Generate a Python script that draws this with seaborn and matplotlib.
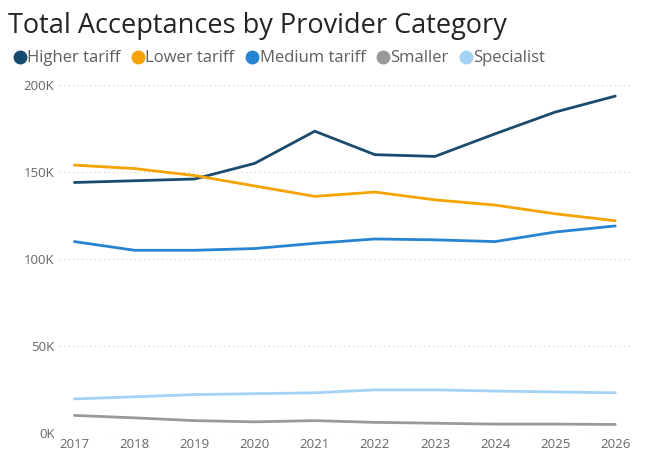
import matplotlib
matplotlib.use("Agg")
import matplotlib.pyplot as plt
import seaborn as sns
import pandas as pd
from matplotlib.lines import Line2D

years = list(range(2017, 2027))
higher = [144, 145, 146, 155, 173.5, 160, 159, 172, 184.5, 193.7]
lower = [154, 152, 148, 142, 136, 138.5, 134, 131, 126, 122]
medium = [110, 105, 105, 106, 109, 111.5, 111, 110, 115.5, 119]
smaller = [10, 8.6, 7, 6.3, 7, 6, 5.5, 5, 5, 4.8]
specialist = [19.5, 20.7, 22, 22.5, 23, 24.7, 24.7, 24, 23.5, 23]

names = ["Higher tariff", "Lower tariff", "Medium tariff", "Smaller", "Specialist"]
colors = ["#194B6F", "#F5A300", "#2684D2", "#999999", "#A3D2F5"]

rows = []
for n, vals in zip(names, [higher, lower, medium, smaller, specialist]):
    for y, v in zip(years, vals):
        rows.append({"Year": y, "Acceptances": v * 1000, "Category": n})
df = pd.DataFrame(rows)

sns.set_style("white")
plt.rcParams['font.family'] = ['Open Sans', 'DejaVu Sans']

fig = plt.figure(figsize=(6.6, 4.73), dpi=100)
ax = fig.add_axes([0.09, 0.085, 0.865, 0.735])
sns.lineplot(data=df, x="Year", y="Acceptances", hue="Category",
             palette=dict(zip(names, colors)), linewidth=2, ax=ax, legend=False)

ax.set_ylim(0, 200000)
ax.set_xlim(2016.75, 2026.25)
ax.set_yticks([0, 50000, 100000, 150000, 200000])
ax.set_yticklabels(["0K", "50K", "100K", "150K", "200K"])
ax.set_xticks(years)
ax.tick_params(colors="#666666", labelsize=9.5, length=0)
ax.yaxis.grid(True, linestyle=(0, (1, 3)), color="#C8C8C8")
ax.set_xlabel("")
ax.set_ylabel("")
for s in ax.spines.values():
    s.set_visible(False)

fig.text(0.012, 0.93, "Total Acceptances by Provider Category", fontsize=19.5, color="#252423")
handles = [Line2D([], [], marker="o", linestyle="", color=c, markersize=9) for c in colors]
fig.legend(handles, names, loc="upper left", bbox_to_anchor=(-0.012, 0.925), ncol=5,
           frameon=False, fontsize=12, handletextpad=-0.3, columnspacing=0.3,
           handlelength=1.5, labelcolor="#605E5C")

fig.savefig("out.png", dpi=100)
